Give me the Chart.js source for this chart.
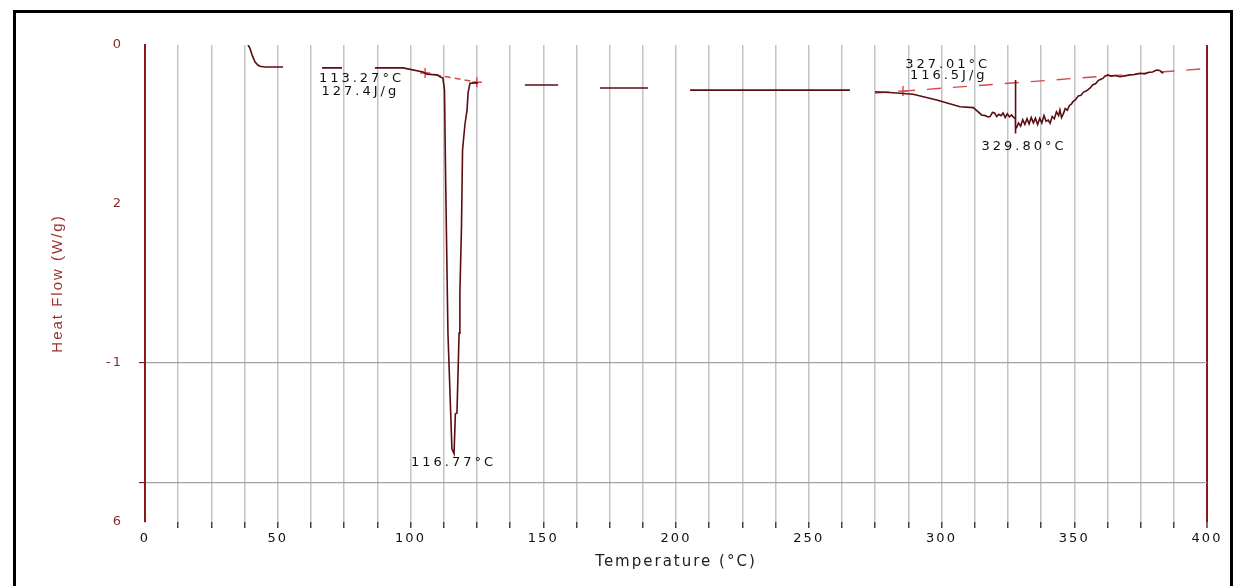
<!DOCTYPE html>
<html>
<head>
<meta charset="utf-8">
<script src="https://cdn.jsdelivr.net/npm/chart.js@4.4.1/dist/chart.umd.min.js"></script>
<style>
  html, body { margin: 0; padding: 0; background: #ffffff; }
  body { width: 1245px; height: 586px; position: relative; overflow: hidden; }
  #frame { position: absolute; left: 13px; top: 10px; width: 1220px; height: 620px;
           border: 3px solid #000; box-sizing: border-box; }
  #c { position: absolute; left: 0; top: 0; }
</style>
</head>
<body>
<div id="frame"></div>
<canvas id="c" width="1245" height="586"></canvas>
<script>
// ---- Data (Temperature °C, Heat Flow W/g) ----
// null values mark places where the trace is not visible in the reference.
const tempC = [
  38.8, 39.5, 40.5, 41.4, 42.5, 43.3, 45.0, 48.2, 52.0, 59.0,
  66.7, 74.2, 80.0,
  86.6, 97.2, 104.7, 106.2, 110.0, 111.1, 112.2, 112.8, 113.2, 113.5, 114.1, 114.9, 115.6, 116.4,
  116.9, 117.5, 118.3, 118.6, 119.2, 119.6, 120.5, 121.3, 121.7, 122.4, 125.4, 135.0,
  143.1, 155.6, 163.0,
  171.4, 189.5, 197.0,
  205.3, 265.5, 270.0,
  275.0, 282.0, 289.3, 298.2, 307.0, 312.0, 315.1, 316.5, 317.5, 318.3, 319.2, 320.0, 320.8,
  321.6, 322.4, 323.2, 324.0, 324.8, 325.6, 326.4, 327.2, 327.8, 327.85, 327.9, 327.95,
  328.3, 329.0, 329.8, 330.6, 331.4, 332.2, 333.0, 333.8, 334.6, 335.4, 336.2, 337.0, 337.8,
  338.6, 339.4, 340.2, 340.9, 341.7, 342.5, 343.3, 344.1, 344.6, 345.2, 345.8, 346.6, 347.4,
  348.2, 349.0, 349.5, 350.5, 351.5, 352.5, 353.5, 354.5, 355.9, 357.0, 358.0, 359.0, 360.0,
  360.8, 361.5, 362.7, 364.0, 365.5, 367.2, 369.0, 371.0, 372.8, 374.8, 376.5, 378.0, 379.5,
  381.0, 382.2, 383.5
];
const heatFlowWg = [
  0.0, -0.010, -0.035, -0.053, -0.063, -0.067, -0.069, -0.069, -0.069, null,
  -0.072, -0.072, null,
  -0.072, -0.072, -0.085, -0.092, -0.094, -0.100, -0.104, -0.142, -0.400, -0.572, -0.906, -1.100, -1.270, -1.285,
  -1.160, -1.157, -0.906, -0.780, -0.572, -0.330, -0.250, -0.204, -0.150, -0.120, -0.119, null,
  -0.126, -0.126, null,
  -0.135, -0.135, null,
  -0.142, -0.142, null,
  -0.147, -0.150, -0.155, -0.173, -0.194, -0.197, -0.220, -0.222, -0.226, -0.225, -0.212, -0.214, -0.225,
  -0.218, -0.222, -0.214, -0.228, -0.216, -0.226, -0.220, -0.228, -0.230, -0.110, -0.278, -0.262,
  -0.260, -0.245, -0.255, -0.235, -0.250, -0.232, -0.248, -0.228, -0.245, -0.230, -0.250, -0.231, -0.245,
  -0.222, -0.240, -0.236, -0.246, -0.225, -0.232, -0.210, -0.222, -0.204, -0.228, -0.218, -0.200, -0.205,
  -0.190, -0.185, -0.178, -0.172, -0.160, -0.158, -0.148, -0.145, -0.136, -0.125, -0.122, -0.112, -0.108,
  -0.105, -0.098, -0.094, -0.098, -0.096, -0.100, -0.097, -0.094, -0.093, -0.089, -0.091, -0.086, -0.085,
  -0.079, -0.080, -0.089
];

// integration baselines (dashed red)
const baseline1T  = [105.5, 125.0];
const baseline1Wg = [-0.088, -0.117];
const baseline2T  = [275.0, 285.5, 398.5];
const baseline2Wg = [-0.151, -0.145, -0.075];

// axis ticks
const xTickStep = 12.5;
const xLabelEvery = 50;
const yTickValues = [0, -0.5, -1, -1.375, -1.5];
const yTickLabels = ['0', '2', '-1', '', '6'];
const yGridValues = [-1, -1.375];

// annotation texts
const annoText  = ['113.27\u00B0C', '127.4J/g', '116.77\u00B0C', '327.01\u00B0C', '116.5J/g', '329.80\u00B0C'];
const annoT     = [65.5, 66.5, 116.2, 286.3, 288.1, 331.1];
const annoWg    = [-0.107, -0.147, -1.314, -0.063, -0.095, -0.321];
const annoAlign = ['left', 'left', 'center', 'left', 'left', 'center'];

// ---- Build chart ----
const curve = tempC.map((t, i) => ({ x: t, y: heatFlowWg[i] }));
const base1 = baseline1T.map((t, i) => ({ x: t, y: baseline1Wg[i] }));
const base2 = baseline2T.map((t, i) => ({ x: t, y: baseline2Wg[i] }));

const spacingPlugin = {
  id: 'spacing',
  beforeDraw(chart) { try { chart.ctx.letterSpacing = '2px'; } catch (e) {} }
};

const annoPlugin = {
  id: 'anno',
  afterDatasetsDraw(chart) {
    const { ctx, scales } = chart;
    ctx.save();
    try { ctx.letterSpacing = '3px'; } catch (e) {}
    ctx.font = '13px "DejaVu Sans"';
    ctx.fillStyle = '#111';
    ctx.textBaseline = 'middle';
    annoText.forEach((txt, i) => {
      ctx.textAlign = annoAlign[i];
      ctx.fillText(txt, scales.x.getPixelForValue(annoT[i]), scales.y.getPixelForValue(annoWg[i]));
    });
    ctx.restore();
  }
};

new Chart(document.getElementById('c'), {
  type: 'line',
  data: {
    datasets: [
      {
        data: curve, borderColor: '#5c0d14', borderWidth: 1.6, pointRadius: 0,
        spanGaps: false, tension: 0, order: 1
      },
      {
        data: base1, borderColor: '#d94848', borderWidth: 1.4, borderDash: [6, 4],
        pointRadius: 5, pointStyle: 'cross', pointBorderColor: '#d94848', pointBorderWidth: 1.4,
        tension: 0, order: 2
      },
      {
        data: base2, borderColor: '#d94848', borderWidth: 1.4, borderDash: [14, 12],
        pointRadius: [0, 5, 0], pointStyle: 'cross', pointBorderColor: '#d94848', pointBorderWidth: 1.4,
        tension: 0, order: 2
      }
    ]
  },
  options: {
    responsive: false,
    animation: false,
    devicePixelRatio: 1,
    layout: { padding: { left: 45, top: 45, right: 38, bottom: 11 } },
    plugins: { legend: { display: false }, tooltip: { enabled: false } },
    scales: {
      x: {
        type: 'linear', min: 0, max: 400,
        afterFit(s) { s.height = 53; },
        ticks: {
          stepSize: xTickStep, autoSkip: false, maxRotation: 0, padding: 3,
          color: '#111', font: { family: 'DejaVu Sans', size: 13 },
          callback: v => (v % xLabelEvery === 0 ? String(v) : '')
        },
        grid: {
          color: c => (c.tick && c.tick.value === 0 ? 'rgba(0,0,0,0)' : (c.tick && c.tick.value === 400 ? '#8b1a1a' : '#c4c4c4')),
          lineWidth: c => (c.tick && c.tick.value === 400 ? 2 : 1.5),
          tickColor: c => (c.tick && c.tick.value === 0 ? 'rgba(0,0,0,0)' : '#444'),
          tickWidth: 1.5, tickLength: 6, drawTicks: true
        },
        border: { display: false },
        title: {
          display: true, text: 'Temperature (\u00B0C)', color: '#222',
          font: { family: 'DejaVu Sans', size: 15 }, padding: { top: 4, bottom: 4 }
        }
      },
      y: {
        type: 'linear', min: -1.5, max: 0,
        afterFit(s) { s.width = 100; },
        afterBuildTicks(s) { s.ticks = yTickValues.map(v => ({ value: v })); },
        ticks: {
          padding: 16, color: '#8b2a2a', font: { family: 'DejaVu Sans', size: 13 },
          callback: v => { const i = yTickValues.indexOf(v); return i >= 0 ? yTickLabels[i] : ''; }
        },
        grid: {
          color: c => (c.tick && yGridValues.includes(c.tick.value) ? '#a3a3a3' : 'rgba(0,0,0,0)'),
          lineWidth: 1.2,
          tickColor: c => (c.tick && yGridValues.includes(c.tick.value) ? '#8b1a1a' : 'rgba(0,0,0,0)'),
          tickLength: 6, drawTicks: true
        },
        border: { display: true, color: '#8b1a1a', width: 2 },
        title: {
          display: true, text: 'Heat Flow (W/g)', color: '#9a3030',
          font: { family: 'Liberation Sans', size: 15 }, padding: { top: 4, bottom: 4 }
        }
      }
    }
  },
  plugins: [spacingPlugin, annoPlugin]
});
</script>
</body>
</html>
